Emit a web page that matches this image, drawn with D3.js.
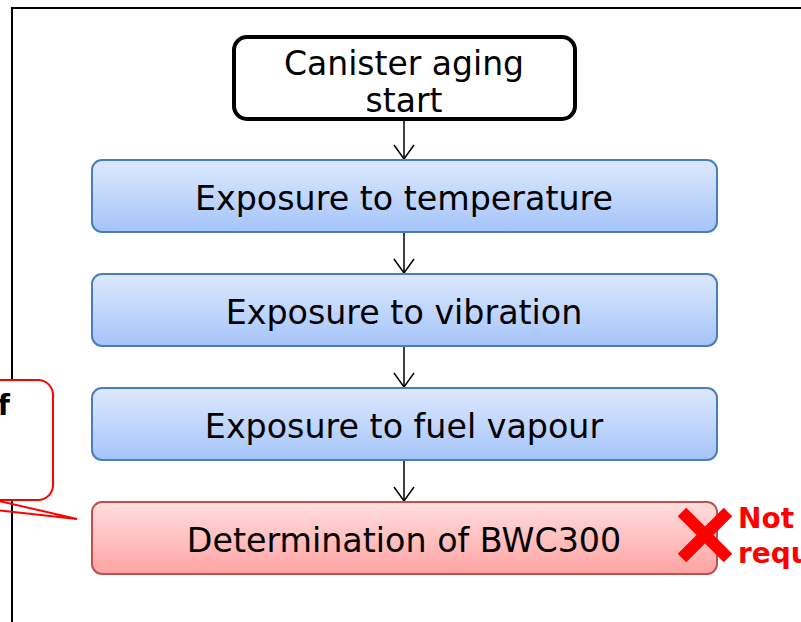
<!doctype html>
<html>
<head>
<meta charset="utf-8">
<script src="https://cdn.jsdelivr.net/npm/d3@7"></script>
<style>
  body { margin: 0; background: #fff; }
  svg { display: block; font-family: "DejaVu Sans", Verdana, sans-serif; }
</style>
</head>
<body>
<svg id="chart" width="801" height="622"></svg>
<script>
// flow content
var startLines = ["Canister aging", "start"];
var steps = ["Exposure to temperature", "Exposure to vibration", "Exposure to fuel vapour", "Determination of BWC300"];
var stepKind = ["blue", "blue", "blue", "red"];
var noteLines = ["Not", "required"];
var calloutText = ["of"];

var svg = d3.select("#chart");

var palette = {
  blue: { top: "#dde9fd", bottom: "#a5c4fa", stroke: "#4a7ebb" },
  red:  { top: "#ffdede", bottom: "#ffa3a3", stroke: "#c0504d" }
};

var defs = svg.append("defs");
Object.keys(palette).forEach(function(k) {
  var g = defs.append("linearGradient").attr("id", "grad-" + k)
    .attr("x1", 0).attr("y1", 0).attr("x2", 0).attr("y2", 1);
  g.append("stop").attr("offset", "0%").attr("stop-color", palette[k].top);
  g.append("stop").attr("offset", "100%").attr("stop-color", palette[k].bottom);
});

// outer frame
svg.append("rect")
  .attr("x", 12).attr("y", 8)
  .attr("width", 900).attr("height", 700)
  .attr("fill", "none").attr("stroke", "#000").attr("stroke-width", 2);

var cx = 404;
var boxW = 625, boxH = 72;
var y = d3.scaleLinear().domain([0, steps.length - 1]).range([160, 502]);

// start box
var startTop = 37, startBottom = 119;
svg.append("rect")
  .attr("x", 234).attr("y", startTop)
  .attr("width", 341).attr("height", startBottom - startTop)
  .attr("rx", 13)
  .attr("fill", "#fff").attr("stroke", "#000").attr("stroke-width", 4);

svg.selectAll("text.start").data(startLines).enter().append("text")
  .attr("class", "start")
  .attr("x", cx)
  .attr("y", function(d, i) { return 75 + i * 37; })
  .attr("text-anchor", "middle")
  .attr("font-size", 33)
  .attr("fill", "#000")
  .text(function(d) { return d; });

// arrows
var arrowFrom = [startBottom + 2].concat(steps.slice(0, -1).map(function(d, i) { return y(i) + boxH + 1; }));
var arrowTo = steps.map(function(d, i) { return y(i); });

arrowFrom.forEach(function(f, i) {
  var t = arrowTo[i];
  svg.append("line")
    .attr("x1", cx).attr("x2", cx)
    .attr("y1", f).attr("y2", t - 1)
    .attr("stroke", "#000").attr("stroke-width", 1.5);
  svg.append("path")
    .attr("d", "M" + (cx - 10) + "," + (t - 15) + "L" + cx + "," + (t - 1) + "L" + (cx + 10) + "," + (t - 15))
    .attr("fill", "none").attr("stroke", "#000").attr("stroke-width", 1.5);
});

// step boxes
var box = svg.selectAll("g.step").data(steps).enter().append("g")
  .attr("class", "step")
  .attr("transform", function(d, i) { return "translate(92," + y(i) + ")"; });

box.append("rect")
  .attr("width", boxW).attr("height", boxH)
  .attr("rx", 10)
  .attr("fill", function(d, i) { return "url(#grad-" + stepKind[i] + ")"; })
  .attr("stroke", function(d, i) { return palette[stepKind[i]].stroke; })
  .attr("stroke-width", 2);

box.append("text")
  .attr("x", cx - 92)
  .attr("y", boxH / 2 + 14)
  .attr("text-anchor", "middle")
  .attr("font-size", 33.3)
  .attr("fill", "#000")
  .text(function(d) { return d; });

// callout on the left
svg.append("rect")
  .attr("x", -40).attr("y", 380)
  .attr("width", 93).attr("height", 120)
  .attr("rx", 15)
  .attr("fill", "#fff").attr("stroke", "#ff0000").attr("stroke-width", 2);
svg.append("path")
  .attr("d", "M-5,500 L77,519 L-5,510")
  .attr("fill", "none").attr("stroke", "#ff0000").attr("stroke-width", 2);
svg.selectAll("text.callout").data(calloutText).enter().append("text")
  .attr("class", "callout")
  .attr("x", 10)
  .attr("y", function(d, i) { return 415 + i * 34; })
  .attr("text-anchor", "end")
  .attr("font-size", 28)
  .attr("font-weight", "bold")
  .attr("fill", "#000")
  .text(function(d) { return d; });

// red cross and note
var xc = 705, yc = 535, hs = 23;
svg.append("path")
  .attr("d", "M" + (xc - hs) + "," + (yc - hs) + "L" + (xc + hs) + "," + (yc + hs) +
             "M" + (xc + hs) + "," + (yc - hs) + "L" + (xc - hs) + "," + (yc + hs))
  .attr("stroke", "#ff0000").attr("stroke-width", 12).attr("fill", "none");

svg.selectAll("text.note").data(noteLines).enter().append("text")
  .attr("class", "note")
  .attr("x", 738)
  .attr("y", function(d, i) { return 528 + i * 35; })
  .attr("font-size", 28)
  .attr("font-weight", "bold")
  .attr("fill", "#ff0000")
  .text(function(d) { return d; });
</script>
</body>
</html>
